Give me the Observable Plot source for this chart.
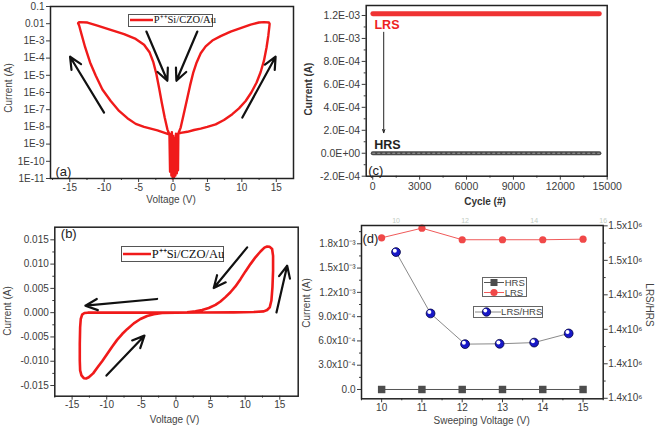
<!DOCTYPE html>
<html><head><meta charset="utf-8">
<script src="https://cdn.jsdelivr.net/npm/d3@7"></script>
<script src="https://cdn.jsdelivr.net/npm/@observablehq/plot@0.6"></script>
<style>
body{margin:0;background:#fff;}
#fig{position:relative;width:656px;height:427px;overflow:hidden;font-family:"Liberation Sans",Arial,sans-serif;color:#444;background:#fff;}
.p{position:absolute;}
.t{position:absolute;font-size:10px;color:#444;white-space:nowrap;line-height:1;}
.b{font-weight:bold;color:#333;}
.r{transform:translate(-50%,-50%) rotate(-90deg);}
.r2{transform:translate(-50%,-50%) rotate(90deg);}
.c{transform:translate(-50%,-50%);}
.leg{position:absolute;box-sizing:border-box;border:1px solid #555;background:#fff;display:flex;align-items:center;white-space:nowrap;line-height:1;}
.leg svg{display:block;flex:none;}
.serif{font-family:"Liberation Serif","Times New Roman",serif;color:#111;}
.dl{position:absolute;box-sizing:border-box;border:1px solid #666;background:#fff;font-size:9.5px;color:#444;line-height:1;}
.row{display:flex;align-items:center;height:9.5px;}
</style>
</head><body>
<div id="fig"></div>
<script>
// ---------- Panel (a): log I-V ----------
const aV = [0.48,1.11,2.08,3.05,4.02,4.98,6.19,7.40,8.61,9.58,10.55,11.37,12.14,12.72,13.21,13.59,13.84,13.98,14.03,
  13.93,13.21,12.48,
  11.27,9.82,8.37,6.92,5.71,4.74,4.02,3.43,2.95,2.47,1.98,1.50,1.11,0.77,
  0.72,0.62,0.55,0.42,0.34,0.22,0.15,0.03,-0.05,-0.17,-0.24,-0.36,-0.43,-0.52,
  -0.58,-1.31,-2.27,-3.24,-4.21,-5.42,-6.63,-7.84,-9.05,-10.26,-11.22,-12.05,-12.77,-13.30,-13.64,-13.79,
  -13.64,-12.43,
  -10.98,-9.05,-7.11,-5.42,-4.21,-3.39,-2.85,-2.42,-2.03,-1.64,-1.21,-0.82,-0.58];
const aI = [3.7e-9,4.5e-9,5.2e-9,6.6e-9,7.9e-9,1.0e-8,1.4e-8,2.5e-8,5.5e-8,1.2e-7,3.2e-7,1.0e-6,3.8e-6,1.5e-5,7.1e-5,4.3e-4,2.0e-3,6.2e-3,9.8e-3,
  1.17e-2,1.23e-2,1.17e-2,
  8.9e-3,5.6e-3,3.5e-3,1.9e-3,1.05e-3,4.8e-4,1.9e-4,5.6e-5,1.5e-5,2.5e-6,3.2e-7,4.4e-8,9.1e-9,4.1e-9,
  3e-11,2.5e-9,2e-11,4e-9,1.5e-11,2e-9,1.2e-11,3e-9,1e-11,5e-9,1.5e-11,3.5e-9,2.5e-11,4e-9,
  3.7e-9,4.7e-9,6.3e-9,7.9e-9,1.0e-8,1.5e-8,3.2e-8,8.5e-8,3.2e-7,1.5e-6,9.3e-6,5.6e-5,4.3e-4,2.5e-3,7.8e-3,1.07e-2,
  1.23e-2,1.17e-2,
  7.8e-3,4.4e-3,2.5e-3,1.3e-3,6.0e-4,2.1e-4,5.6e-5,1.2e-5,1.9e-6,2.6e-7,3.5e-8,7.2e-9,4.1e-9];
const aYTicks = [1e-11,1e-10,1e-9,1e-8,1e-7,1e-6,1e-5,1e-4,1e-3,0.01,0.1];
const aYLabels = ["1E-11","1E-10","1E-9","1E-8","1E-7","1E-6","1E-5","1E-4","1E-3","0.01","0.1"];
const vTicks = [-15,-10,-5,0,5,10,15];
const vMinor = [-17.5,-12.5,-7.5,-2.5,2.5,7.5,12.5];
const aArrX1 = [-10.02,-3.87,3.53,10.07], aArrY1 = [6.8e-8,3.5e-3,3.5e-3,3.5e-8];
const aArrX2 = [-14.96,-0.82,0.49,14.9], aArrY2 = [1.2e-4,4.8e-6,4.8e-6,1.2e-4];

// ---------- Panel (b): linear I-V ----------
const bV = [0,3.54,8.35,11.24,12.69,13.17,13.55,13.79,13.94,14.03,14.03,13.89,13.55,13.17,12.78,12.21,11.48,10.76,10.04,9.32,8.59,7.87,7.15,6.43,5.71,4.74,3.78,2.82,1.61,0,
  -6.09,-10.9,-12.73,-13.22,-13.55,-13.75,-13.84,-13.89,-13.89,-13.84,-13.65,-13.31,-12.98,-12.59,-11.96,-11.29,-10.66,-9.94,-9.22,-8.50,-7.77,-7.05,-6.09,-5.13,-4.16,-3.20,-2.00,0];
const bI = [0,0.00003,0.00007,0.00014,0.00027,0.00055,0.0011,0.0025,0.0052,0.0086,0.0117,0.0131,0.01356,0.01363,0.0134,0.0126,0.0114,0.0100,0.0085,0.0069,0.0054,0.0042,0.0032,0.0023,0.0016,0.00096,0.00055,0.00027,0.00007,0,
  0,0,0,-0.00007,-0.0004,-0.0013,-0.0030,-0.0064,-0.0099,-0.0119,-0.0129,-0.01349,-0.01356,-0.0133,-0.0125,-0.0112,-0.0100,-0.0085,-0.0070,-0.0056,-0.0044,-0.0034,-0.0022,-0.0013,-0.00068,-0.00034,-0.00007,0];
const bYTicks = [-0.015,-0.01,-0.005,0,0.005,0.01,0.015];
const bYLabels = ["-0.015","-0.010","-0.005","0.000","0.005","0.010","0.015"];
const bYMinor = [-0.0125,-0.0075,-0.0025,0.0025,0.0075,0.0125];
const bArrX1 = [-2.72,10.29,-10.04,14.52], bArrY1 = [0.00282,0.01344,-0.01296,0.00006];
const bArrX2 = [-13.08,5.46,-4.55,16.07], bArrY2 = [0.00144,0.00508,-0.00473,0.00967];

// ---------- Panel (c): endurance ----------
const cCycles = [0,1000,2000,3000,4000,5000,6000,7000,8000,9000,10000,11000,12000,13000,14000,14500];
const cLRS = [1.215e-3,1.215e-3,1.215e-3,1.215e-3,1.215e-3,1.215e-3,1.215e-3,1.215e-3,1.215e-3,1.215e-3,1.215e-3,1.215e-3,1.215e-3,1.215e-3,1.215e-3,1.215e-3];
const cHRS = [0,0,0,0,0,0,0,0,0,0,0,0,0,0,0,0];
const cXTicks = [0,3000,6000,9000,12000,15000];
const cXMinor = [1500,4500,7500,10500,13500];
const cYTicks = [-0.0002,0,0.0002,0.0004,0.0006,0.0008,0.001,0.0012];
const cYLabels = ["-2.0E-04","0.0E+00","2.0E-04","4.0E-04","6.0E-04","8.0E-04","1.0E-03","1.2E-03"];
const cYMinor = [-0.0001,0.0001,0.0003,0.0005,0.0007,0.0009,0.0011];
const cArr = {x: 700, y1: 1.054e-3, y2: 1.79e-4};
const cNotes = [{t:"LRS", x:110, y:1.114e-3, c:"#ee2222"},{t:"HRS", x:90, y:7.5e-5, c:"#222"}];

// ---------- Panel (d): sweeping voltage ----------
const dV = [10,11,12,13,14,15];
const dHRS = [0,0,0,0,0,0];
const dLRS = [1.874e-3,1.993e-3,1.850e-3,1.850e-3,1.850e-3,1.857e-3];
const dTopX = [10,11,12,13,14,15];
const dRatio = [1.4648e6,1.4292e6,1.4114e6,1.4116e6,1.4123e6,1.4176e6];
const dYTicks = [0,0.0003,0.0006,0.0009,0.0012,0.0015,0.0018];
const dYLabels = ["0.0","3.0x10⁻⁴","6.0x10⁻⁴","9.0x10⁻⁴","1.2x10⁻³","1.5x10⁻³","1.8x10⁻³"];
const dYMinor = [0.00015,0.00045,0.00075,0.00105,0.00135,0.00165,0.00195];
const dXTicks = [10,11,12,13,14,15];
const dXMinor = [9.5,10.5,11.5,12.5,13.5,14.5,15.5];
const dRTicks = [1.38e6,1.40e6,1.42e6,1.44e6,1.46e6,1.48e6];
const dRLabels = ["1.4x10⁶","1.4x10⁶","1.4x10⁶","1.4x10⁶","1.5x10⁶","1.5x10⁶"];
const dRMinor = [1.39e6,1.41e6,1.43e6,1.45e6,1.47e6];
const dTopTicks = [10,12,14,16];

const fig = document.getElementById("fig");
const base = {background:"transparent", fontFamily:"'Liberation Sans', Arial, sans-serif", fontSize:"10px", color:"#3c3c3c", overflow:"visible"};
const lab = (ticks, labels) => { const m = new Map(ticks.map((t,i)=>[t,labels[i]])); return d => m.get(d) ?? ""; };
const blank = () => "";
function place(svg, left, top, w) {
  const d = document.createElement("div");
  d.className = "p"; d.style.left = left+"px"; d.style.top = top+"px"; d.style.width = w+"px";
  d.appendChild(svg); fig.appendChild(d);
}
const RED = "#f01a1a";

// (a)
const dataA = aV.map((v,i)=>({v, i: aI[i]}));
const arrA = aArrX1.map((x,i)=>({x1:x,y1:aArrY1[i],x2:aArrX2[i],y2:aArrY2[i]}));
place(Plot.plot({
  width:300, height:210, marginLeft:50, marginTop:6, marginRight:7, marginBottom:32,
  style: base,
  x:{domain:[-17.8,17.5]},
  y:{type:"log", domain:[1e-11,0.1]},
  marks:[
    Plot.axisX({ticks:vTicks, tickFormat:d=>String(d), tickSize:4, tickPadding:1, label:null}),
    Plot.axisX({ticks:vMinor, tickFormat:blank, tickSize:2, label:null}),
    Plot.axisY({ticks:aYTicks, tickFormat:lab(aYTicks,aYLabels), tickSize:4, tickPadding:2, label:null}),
    Plot.line(dataA, {x:"v", y:"i", stroke:RED, strokeWidth:2.4}),
    Plot.arrow(arrA, {x1:"x1", y1:"y1", x2:"x2", y2:"y2", stroke:"#111", strokeWidth:2.2, headLength:9, headAngle:50}),
    Plot.text(["(a)"], {text:d=>d, frameAnchor:"bottom-left", textAnchor:"start", lineAnchor:"bottom", dx:5, dy:-3, fontSize:13, fill:"#222"}),
    Plot.frame({stroke:"#222", strokeWidth:1.5})
  ]
}), 0, 0, 300);

// (c)
const dataC = cCycles.map((c,i)=>({c, l:cLRS[i], h:cHRS[i]}));
place(Plot.plot({
  width:356, height:210, marginLeft:65.7, marginTop:5, marginRight:49.3, marginBottom:34.3,
  style: {...base, fontSize:"10.5px"},
  x:{domain:[-420,15000]},
  y:{domain:[-0.0002,0.001287]},
  marks:[
    Plot.axisX({ticks:cXTicks, tickFormat:d=>String(d), tickSize:4, tickPadding:2, label:null}),
    Plot.axisX({ticks:cXMinor, tickFormat:blank, tickSize:2, label:null}),
    Plot.axisY({ticks:cYTicks, tickFormat:lab(cYTicks,cYLabels), tickSize:4, tickPadding:2, label:null}),
    Plot.axisY({ticks:cYMinor, tickFormat:blank, tickSize:2, label:null}),
    Plot.line(dataC, {x:"c", y:"h", stroke:"#4a4a4a", strokeWidth:4, strokeLinecap:"round"}),
    Plot.line(dataC, {x:"c", y:"h", stroke:"#9a9a9a", strokeWidth:1.2, strokeDasharray:"2,3"}),
    Plot.line(dataC, {x:"c", y:"l", stroke:"#ef3333", strokeWidth:4.8, strokeLinecap:"round"}),
    Plot.arrow([cArr], {x1:"x", y1:"y1", x2:"x", y2:"y2", stroke:"#222", strokeWidth:1, headLength:5, headAngle:40}),
    Plot.text(cNotes, {x:"x", y:"y", text:"t", fill:"c", textAnchor:"start", fontWeight:"bold", fontSize:12.5, letterSpacing:"1.5px"}),
    Plot.text(["(c)"], {text:d=>d, frameAnchor:"bottom-left", textAnchor:"start", lineAnchor:"bottom", dx:2, dy:-1, fontSize:13, fill:"#222"}),
    Plot.frame({stroke:"#222", strokeWidth:1.5})
  ]
}), 300, 0, 356);

// (b)
const dataB = bV.map((v,i)=>({v, i:bI[i]}));
const arrB = bArrX1.map((x,i)=>({x1:x,y1:bArrY1[i],x2:bArrX2[i],y2:bArrY2[i]}));
place(Plot.plot({
  width:300, height:217, marginLeft:54.3, marginTop:16.7, marginRight:2.3, marginBottom:31.3,
  style: base,
  x:{domain:[-17.5,17.66]},
  y:{domain:[-0.0172,0.0176]},
  marks:[
    Plot.axisX({ticks:vTicks, tickFormat:d=>String(d), tickSize:4, tickPadding:1, label:null}),
    Plot.axisX({ticks:vMinor, tickFormat:blank, tickSize:2, label:null}),
    Plot.axisY({ticks:bYTicks, tickFormat:lab(bYTicks,bYLabels), tickSize:4, tickPadding:2, label:null}),
    Plot.axisY({ticks:bYMinor, tickFormat:blank, tickSize:2, label:null}),
    Plot.line(dataB, {x:"v", y:"i", stroke:RED, strokeWidth:2.6}),
    Plot.arrow(arrB, {x1:"x1", y1:"y1", x2:"x2", y2:"y2", stroke:"#111", strokeWidth:2.2, headLength:9, headAngle:50}),
    Plot.text(["(b)"], {text:d=>d, frameAnchor:"top-left", textAnchor:"start", lineAnchor:"top", dx:6, dy:2, fontSize:13, fill:"#222"}),
    Plot.frame({stroke:"#222", strokeWidth:1.5})
  ]
}), 0, 210, 300);

// (d) base
const dataD = dV.map((v,i)=>({v, h:dHRS[i], l:dLRS[i]}));
place(Plot.plot({
  width:356, height:217, marginLeft:61, marginTop:15, marginRight:53.3, marginBottom:28.7,
  style: base,
  x:{domain:[9.5,15.5]},
  y:{domain:[-0.000115,0.002026]},
  marks:[
    Plot.axisX({ticks:dXTicks, tickFormat:d=>String(d), tickSize:4, tickPadding:1, label:null}),
    Plot.axisX({ticks:dXMinor, tickFormat:blank, tickSize:2, label:null}),
    Plot.axisY({ticks:dYTicks, tickFormat:lab(dYTicks,dYLabels), tickSize:4, tickPadding:2, label:null}),
    Plot.axisY({ticks:dYMinor, tickFormat:blank, tickSize:2, label:null}),
    Plot.line(dataD, {x:"v", y:"h", stroke:"#555", strokeWidth:1}),
    Plot.dot(dataD, {x:"v", y:"h", symbol:"square", r:4.2, fill:"#4d4d4d"}),
    Plot.line(dataD, {x:"v", y:"l", stroke:"#f05a5a", strokeWidth:1}),
    Plot.dot(dataD, {x:"v", y:"l", r:3.6, fill:"#f04848"}),
    Plot.text(["(d)"], {text:d=>d, frameAnchor:"top-left", textAnchor:"start", lineAnchor:"top", dx:1, dy:8, fontSize:13, fill:"#222"}),
    Plot.frame({stroke:"#222", strokeWidth:1.5})
  ]
}), 300, 210, 356);

// (d) overlay: LRS/HRS on right / top axes
const dataR = dTopX.map((x,i)=>({x, r:dRatio[i]}));
place(Plot.plot({
  width:356, height:217, marginLeft:61, marginTop:15, marginRight:53.3, marginBottom:28.7,
  style: base,
  x:{domain:[9,16]},
  y:{domain:[1.3797e6,1.4802e6]},
  marks:[
    Plot.axisX({anchor:"top", ticks:dTopTicks, tickFormat:d=>String(d), tickSize:0, tickPadding:3, fontSize:7, fill:"#c3ccc3", label:null}),
    Plot.axisY({anchor:"right", ticks:dRTicks, tickFormat:lab(dRTicks,dRLabels), tickSize:4, tickPadding:1, label:null}),
    Plot.axisY({anchor:"right", ticks:dRMinor, tickFormat:blank, tickSize:2, label:null}),
    Plot.line(dataR, {x:"x", y:"r", stroke:"#8a8a8a", strokeWidth:1}),
    Plot.dot(dataR, {x:"x", y:"r", r:4.4, fill:"#1818c8", stroke:"#000040", strokeWidth:0.8}),
    Plot.dot(dataR, {x:"x", y:"r", r:2, fill:"#ffffff", dx:-1.2, dy:-1.4})
  ]
}), 300, 210, 356);

// ---------- axis titles & legends (HTML text) ----------
const titles = [
  {t:"Current (A)", x:9.3, y:88, cls:"r"},
  {t:"Voltage (V)", x:171, y:199.5, cls:"c"},
  {t:"Current (A)", x:308.5, y:89, cls:"r b"},
  {t:"Cycle (#)", x:485, y:201.5, cls:"c b"},
  {t:"Current (A)", x:8.3, y:311, cls:"r"},
  {t:"Voltage (V)", x:174.5, y:420, cls:"c"},
  {t:"Current (A)", x:307, y:303, cls:"r"},
  {t:"Sweeping Voltage (V)", x:481.7, y:421, cls:"c"},
  {t:"LRS/HRS", x:648.5, y:305, cls:"r2"}
];
for (const d of titles) {
  const e = document.createElement("div");
  e.className = "t " + d.cls; e.textContent = d.t;
  e.style.left = d.x+"px"; e.style.top = d.y+"px";
  fig.appendChild(e);
}
const legName = "P⁺⁺Si/CZO/Au";
fig.insertAdjacentHTML("beforeend", `
<div class="leg serif" style="left:127.7px;top:14px;width:85.6px;height:12.5px;font-size:10.5px;">
  <svg width="25" height="10"><line x1="1" x2="24" y1="5" y2="5" stroke="${RED}" stroke-width="2.5"/></svg><span>${legName}</span></div>
<div class="leg serif" style="left:120.7px;top:246px;width:103.5px;height:16px;font-size:12.5px;">
  <svg width="30" height="10"><line x1="1" x2="29" y1="5" y2="5" stroke="${RED}" stroke-width="2.5"/></svg><span>${legName}</span></div>
<div class="dl" style="left:481.7px;top:276.7px;width:45px;height:20.6px;padding-top:0.5px;">
  <div class="row"><svg width="22" height="9"><line x1="1" x2="21" y1="4.5" y2="4.5" stroke="#555"/><rect x="7.5" y="1" width="7" height="7" fill="#4d4d4d"/></svg><span>HRS</span></div>
  <div class="row"><svg width="22" height="9"><line x1="1" x2="21" y1="4.5" y2="4.5" stroke="#f05a5a"/><circle cx="11" cy="4.5" r="3.6" fill="#f04848"/></svg><span>LRS</span></div>
</div>
<div class="dl" style="left:472.7px;top:305.7px;width:70.6px;height:12.8px;display:flex;align-items:center;">
  <svg width="31" height="10"><line x1="1" x2="30" y1="5" y2="5" stroke="#8a8a8a"/><circle cx="12.5" cy="5" r="4.2" fill="#1818c8" stroke="#000040" stroke-width="0.8"/><circle cx="11.3" cy="3.6" r="1.9" fill="#fff"/></svg><span>LRS/HRS</span>
</div>`);
</script>
</body></html>
